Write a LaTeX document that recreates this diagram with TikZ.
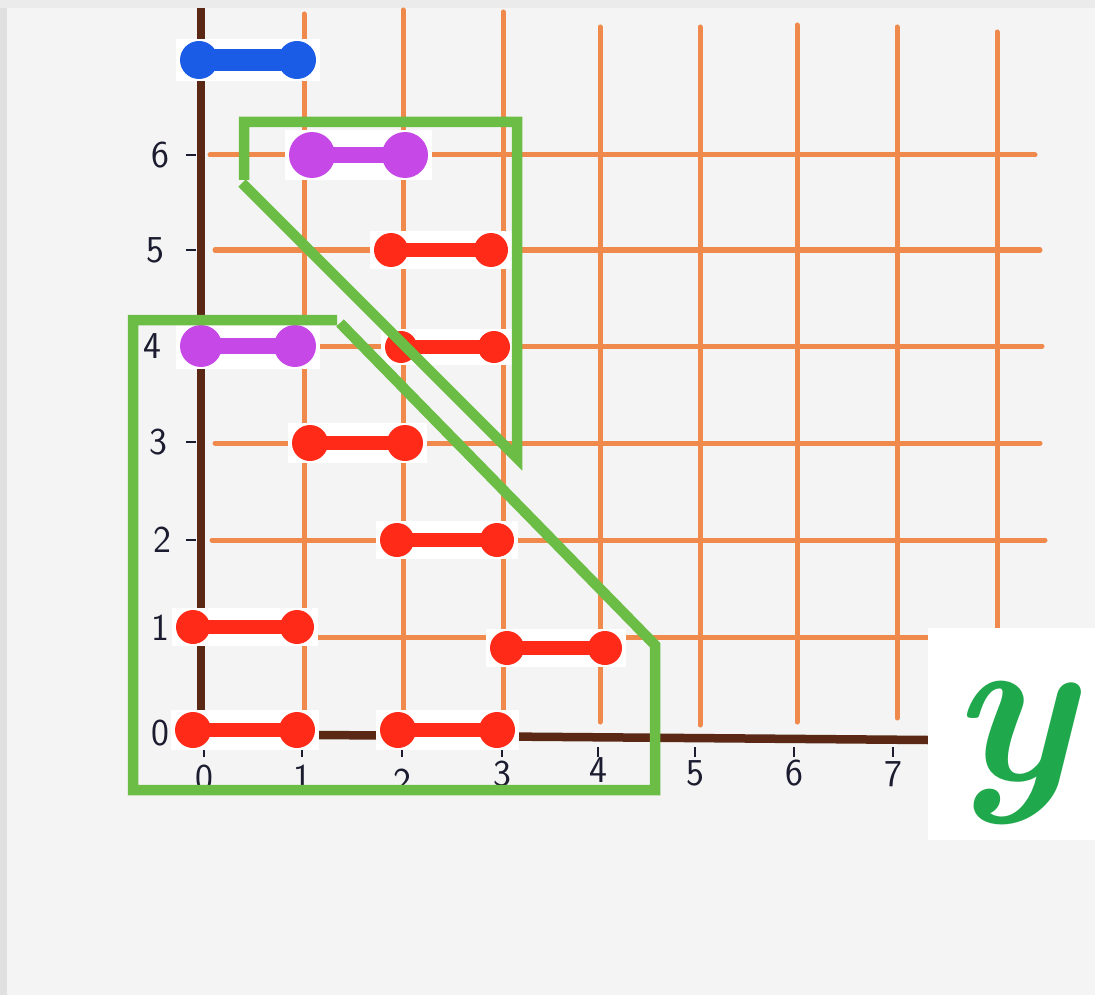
\documentclass[tikz,border=0pt]{standalone}
\usetikzlibrary{positioning}
\usepackage{xcolor}
\definecolor{paper}{HTML}{F4F4F4}
\definecolor{gridorange}{HTML}{EF8A4C}
\definecolor{axisbrown}{HTML}{5A2814}
\definecolor{boxgreen}{HTML}{6CBD45}
\definecolor{ygreen}{HTML}{1FA84C}
\definecolor{inkdark}{HTML}{1C1C30}
\definecolor{redbell}{HTML}{FF2A18}
\definecolor{bluebell}{HTML}{1A5CE6}
\definecolor{purplebell}{HTML}{C648E6}

\begin{document}
\begin{tikzpicture}[
  x=1pt, y=-1pt,
  gridline/.style={draw=gridorange, line width=5pt, line cap=round},
  axisline/.style={draw=axisbrown, line width=8.5pt},
  tickmark/.style={draw=inkdark, line width=2.5pt},
  numlabel/.style={font=\sffamily\fontsize{38}{38}\selectfont, text=inkdark, inner sep=0pt},
  region/.style={draw=boxgreen, line width=10.5pt, line join=miter},
]
  \useasboundingbox (0,0) rectangle (1095,995);
  \fill[paper] (0,0) rectangle (1095,995);
  \fill[black!12] (0,0) rectangle (7,995);
  \fill[black!8] (0,0) rectangle (1095,8);

  % grid
  \foreach \x/\ya/\yb in {304/14/720,403/10/728,503/12/725,600/27/722,700/27/725,797/25/722,897/27/718,997/32/630}
    \draw[gridline] (\x,\ya) -- (\x,\yb);
  \foreach \y/\xa/\xb in {155/210/1035,250/215/1040,346/215/1042,443/215/1040,540/212/1045,637/215/928}
    \draw[gridline] (\xa,\y) -- (\xb,\y);
  \draw[axisline] (201,8) -- (201,745);
  \draw[axisline] (198,734) -- (928,740);

  % ticks and numbers
  \foreach \n/\x/\y in {6/160/155,5/155/250,4/152/346,3/158/442,2/162/540,1/160/628,0/160/733} {
    \draw[tickmark] (186,\y) -- (196,\y);
    \node[numlabel] (ylab\n) at (\x,\y) {\n};
  }
  \foreach \n/\x/\y in {0/204/778,1/302/778,2/402/782,3/502/774,4/598/770,5/695/773,6/794/773,7/893/774} {
    \draw[tickmark] (\x,747) -- (\x,757);
    \node[numlabel] (xlab\n) at (\x,\y) {\n};
  }

  % dumbbells
  \foreach \c/\xa/\xb/\y/\r/\w in {
      bluebell/199/297/60/19/11,
      purplebell/312/405/155/23/8,
      redbell/391/491/250/17/7,
      purplebell/201/295/346/21/8,
      redbell/401/494/347/16/7,
      redbell/310/405/443/18/7,
      redbell/397/497/540/17/7,
      redbell/193/297/627/17/7,
      redbell/507/605/648/17/7,
      redbell/193/297/730/18/7,
      redbell/398/497/730/18/7} {
    \fill[white] (\xa-\r-4,\y-\r-2) rectangle (\xb+\r+4,\y+\r+2);
    \fill[\c] (\xa,\y-\w) rectangle (\xb,\y+\w);
    \fill[\c] (\xa,\y) circle[radius=\r pt] (\xb,\y) circle[radius=\r pt];
  }

  % regions
  \draw[region] (244,180) -- (244,122) -- (517,122) -- (517,458) -- (242,183);
  \draw[region] (337,320) -- (133,320) -- (133,790) -- (655,790) -- (655,645) -- (340,323);

  % y panel
  \fill[white] (928,628) rectangle (1095,840);
  \node[text=ygreen, font=\fontsize{220}{220}\selectfont\bfseries\itshape, inner sep=0pt, anchor=base] (ylabel) at (1012,780) {y};
\end{tikzpicture}
\end{document}
